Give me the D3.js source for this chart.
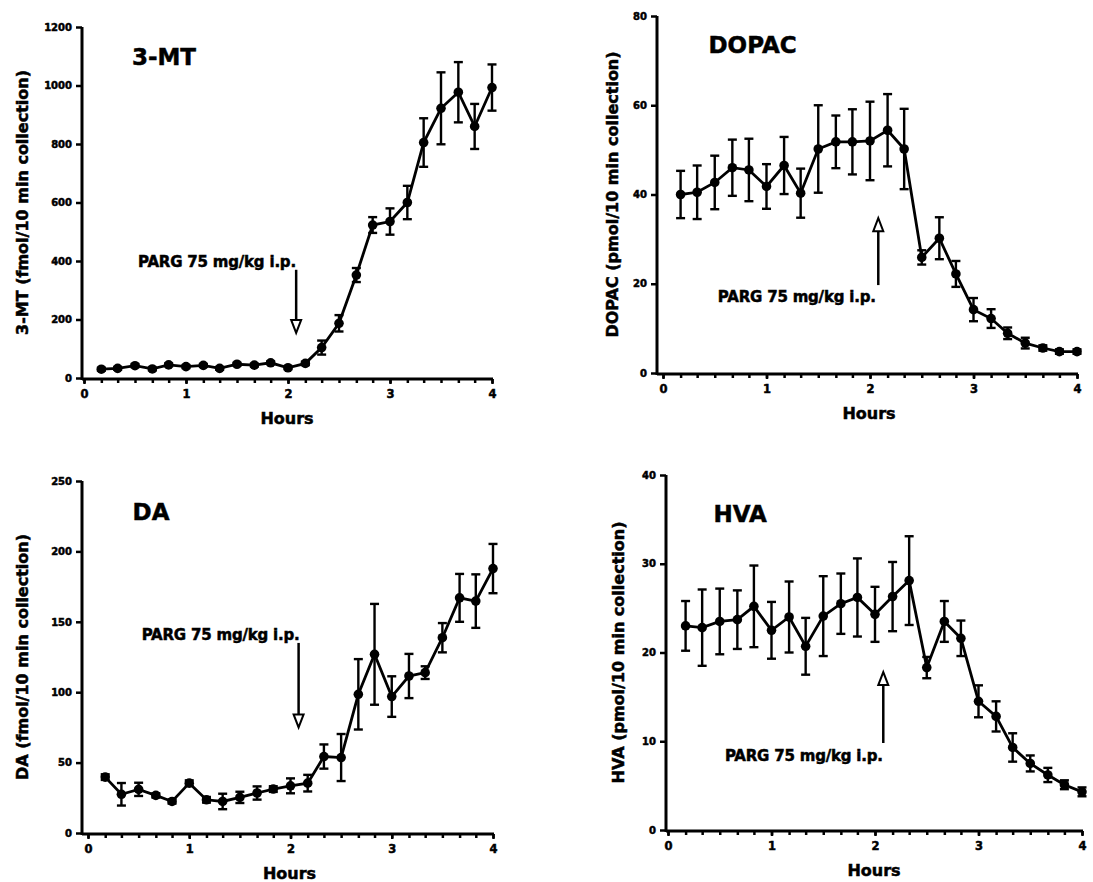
<!DOCTYPE html>
<html>
<head>
<meta charset="utf-8">
<script src="https://cdn.jsdelivr.net/npm/d3@7"></script>
<style>
  body { margin: 0; background: #fff; }
  svg text { font-family: "DejaVu Sans", "Liberation Sans", sans-serif; font-weight: bold; fill: #000; stroke: #000; stroke-width: 0.5px; }
</style>
</head>
<body>
<script>
// sample times (hours), one every 10 min collection
var hours = [0.17, 0.33, 0.5, 0.67, 0.83, 1, 1.17, 1.33, 1.5, 1.67, 1.83, 2,
             2.17, 2.33, 2.5, 2.67, 2.83, 3, 3.17, 3.33, 3.5, 3.67, 3.83, 4];
var hourTicks = [0, 1, 2, 3, 4];
var doseText = 'PARG 75 mg/kg i.p.';
var doseTime = 2.08;

// 3-MT (fmol)
var mt    = [30, 33, 42, 31, 45, 39, 43, 33, 47, 44, 52, 35, 50, 104, 187, 352, 523, 535, 600, 805, 922, 977, 860, 993];
var mtErr = [5, 5, 5, 5, 5, 5, 5, 5, 5, 5, 5, 5, 6, 24, 28, 24, 27, 45, 57, 83, 123, 103, 77, 79];
var mtTicks = [0, 200, 400, 600, 800, 1000, 1200];

// DOPAC (pmol)
var dopac    = [40, 40.5, 42.7, 46, 45.5, 41.8, 46.5, 40.3, 50.2, 51.8, 51.8, 52, 54.4, 50.2, 25.9, 30.2, 22.2, 14.2, 12.2, 8.9, 6.7, 5.6, 4.8, 4.8];
var dopacErr = [5.3, 6, 6, 6.3, 7, 5, 6.4, 5.5, 9.8, 5.9, 7.3, 8.8, 8.1, 9, 1.6, 4.7, 2.9, 2.6, 2.1, 1.3, 1.2, 0.6, 0.5, 0.5];
var dopacTicks = [0, 20, 40, 60, 80];

// DA (fmol)
var da    = [39.7, 27.5, 31, 26.7, 22.4, 35.4, 23.6, 22.4, 25.3, 28.4, 31.2, 33.5, 35.4, 54.3, 53.6, 98.5, 126.9, 96.9, 111.5, 113.9, 138.7, 167, 164.7, 187.8];
var daErr = [2, 8, 4.7, 1.5, 1.5, 2, 2, 5.5, 4, 4.7, 2, 5.3, 5.9, 8.6, 16.7, 25, 35.8, 14.4, 15.7, 4.5, 10.4, 17, 19, 17.5];
var daTicks = [0, 50, 100, 150, 200, 250];

// HVA (pmol)
var hva    = [23, 22.8, 23.5, 23.7, 25.2, 22.5, 24, 20.7, 24.1, 25.5, 26.2, 24.3, 26.3, 28.1, 18.3, 23.5, 21.6, 14.5, 12.8, 9.3, 7.5, 6.2, 5.1, 4.3];
var hvaErr = [2.8, 4.3, 3.7, 3.3, 4.6, 3.2, 4, 3.2, 4.5, 3.4, 4.4, 3.1, 3.9, 5, 1.2, 2.3, 2, 1.8, 1.7, 1.6, 0.9, 0.8, 0.5, 0.5];
var hvaTicks = [0, 10, 20, 30, 40];

var panels = [
  { title: '3-MT', ylabel: '3-MT (fmol/10 min collection)', values: mt, errors: mtErr, yTicks: mtTicks,
    box: [84, 492, 378, 27], axisX: 82, labelX: 22,
    titleAt: [0.47, 1070], textAt: [0.53, 378], arrow: [370, 154] },
  { title: 'DOPAC', ylabel: 'DOPAC (pmol/10 min collection)', values: dopac, errors: dopacErr, yTicks: dopacTicks,
    box: [663, 1077, 373, 16], axisX: 657, labelX: 612,
    titleAt: [0.44, 71.6], textAt: [0.53, 15.9], arrow: [19.7, 34.7] },
  { title: 'DA', ylabel: 'DA (fmol/10 min collection)', values: da, errors: daErr, yTicks: daTicks,
    box: [88, 493, 833, 481], axisX: 82, labelX: 22,
    titleAt: [0.44, 222], textAt: [0.53, 137], arrow: [135, 75] },
  { title: 'HVA', ylabel: 'HVA (pmol/10 min collection)', values: hva, errors: hvaErr, yTicks: hvaTicks,
    box: [668, 1082, 830, 475], axisX: 666, labelX: 618,
    titleAt: [0.44, 34.7], textAt: [0.55, 7.8], arrow: [9.8, 17.8] }
];

var svg = d3.select('body').append('svg')
  .attr('width', 1093)
  .attr('height', 882);

panels.forEach(function (p) {
  var x = d3.scaleLinear().domain([0, 4]).range([p.box[0], p.box[1]]);
  var yMax = p.yTicks[p.yTicks.length - 1];
  var y = d3.scaleLinear().domain([0, yMax]).range([p.box[2], p.box[3]]);
  var g = svg.append('g');

  // y axis
  var yAxis = g.append('g')
    .attr('transform', 'translate(' + p.axisX + ',0)')
    .call(d3.axisLeft(y).tickValues(p.yTicks).tickSize(6).tickSizeOuter(0).tickPadding(4).tickFormat(d3.format('d')));
  yAxis.select('.domain').remove();
  yAxis.selectAll('line').attr('stroke', '#000').attr('stroke-width', 2.5);
  yAxis.selectAll('text').style('font-size', '10px').style('font-family', '"DejaVu Sans", sans-serif').style('font-weight', 'bold');

  // x axis: minor ticks every collection, labels on hours
  var xMinor = g.append('g')
    .attr('transform', 'translate(0,' + (p.box[2] + 1) + ')')
    .call(d3.axisBottom(x).tickValues([0].concat(hours)).tickSize(4).tickSizeOuter(0).tickFormat(''));
  xMinor.select('.domain').remove();
  xMinor.selectAll('line').attr('stroke', '#000').attr('stroke-width', 2.5);

  var xMajor = g.append('g')
    .attr('transform', 'translate(0,' + (p.box[2] + 1) + ')')
    .call(d3.axisBottom(x).tickValues(hourTicks).tickSize(5).tickSizeOuter(0).tickPadding(6).tickFormat(d3.format('d')));
  xMajor.select('.domain').remove();
  xMajor.selectAll('line').attr('stroke', '#000').attr('stroke-width', 2.5);
  xMajor.selectAll('text').style('font-size', '11.5px').style('font-family', '"DejaVu Sans", sans-serif').style('font-weight', 'bold');

  // axis lines
  g.append('line')
    .attr('x1', p.axisX).attr('x2', p.axisX)
    .attr('y1', y(yMax)).attr('y2', p.box[2] + 2)
    .attr('stroke', '#000').attr('stroke-width', 3);
  g.append('line')
    .attr('x1', p.axisX).attr('x2', x(4) + 1)
    .attr('y1', p.box[2] + 1).attr('y2', p.box[2] + 1)
    .attr('stroke', '#000').attr('stroke-width', 3);

  // axis titles
  g.append('text')
    .attr('transform', 'translate(' + p.labelX + ',' + ((y(0) + y(yMax)) / 2) + ') rotate(-90)')
    .attr('text-anchor', 'middle')
    .attr('dominant-baseline', 'central')
    .style('font-size', '16px')
    .text(p.ylabel);

  g.append('text')
    .attr('x', x(2) - 1)
    .attr('y', p.box[2] + 40)
    .attr('text-anchor', 'middle')
    .attr('dominant-baseline', 'central')
    .style('font-size', '16px')
    .text('Hours');

  // panel title
  g.append('text')
    .attr('x', x(p.titleAt[0]))
    .attr('y', y(p.titleAt[1]))
    .style('font-size', '23px')
    .text(p.title);

  // dose annotation
  g.append('text')
    .attr('x', x(p.textAt[0]))
    .attr('y', y(p.textAt[1]))
    .style('font-size', '15px')
    .style('letter-spacing', '-0.2px')
    .text(doseText);

  var ax = x(doseTime), yFrom = y(p.arrow[0]), yTip = y(p.arrow[1]);
  var dir = yTip > yFrom ? 1 : -1;
  var headLen = 13, headW = 5;
  g.append('line')
    .attr('x1', ax).attr('x2', ax)
    .attr('y1', yFrom).attr('y2', yTip - dir * headLen)
    .attr('stroke', '#000').attr('stroke-width', 2.5);
  g.append('path')
    .attr('d', 'M' + (ax - headW) + ',' + (yTip - dir * headLen) +
               'L' + (ax + headW) + ',' + (yTip - dir * headLen) +
               'L' + ax + ',' + yTip + 'Z')
    .attr('fill', '#fff').attr('stroke', '#000').attr('stroke-width', 2).attr('stroke-linejoin', 'miter');

  // error bars
  var pts = hours.map(function (h, i) { return { h: h, v: p.values[i], e: p.errors[i] }; });
  var bars = g.append('g').selectAll('g').data(pts).enter().append('g');
  bars.append('line')
    .attr('x1', function (d) { return x(d.h); }).attr('x2', function (d) { return x(d.h); })
    .attr('y1', function (d) { return y(d.v - d.e); }).attr('y2', function (d) { return y(d.v + d.e); })
    .attr('stroke', '#000').attr('stroke-width', 2.4);
  [-1, 1].forEach(function (s) {
    bars.append('line')
      .attr('x1', function (d) { return x(d.h) - 4.5; }).attr('x2', function (d) { return x(d.h) + 4.5; })
      .attr('y1', function (d) { return y(d.v + s * d.e); }).attr('y2', function (d) { return y(d.v + s * d.e); })
      .attr('stroke', '#000').attr('stroke-width', 2.4);
  });

  // line + markers
  var line = d3.line().x(function (d) { return x(d.h); }).y(function (d) { return y(d.v); });
  g.append('path')
    .datum(pts)
    .attr('d', line)
    .attr('fill', 'none').attr('stroke', '#000').attr('stroke-width', 2.8);

  g.append('g').selectAll('circle').data(pts).enter().append('circle')
    .attr('cx', function (d) { return x(d.h); })
    .attr('cy', function (d) { return y(d.v); })
    .attr('r', 4.8)
    .attr('fill', '#000');
});
</script>
</body>
</html>
